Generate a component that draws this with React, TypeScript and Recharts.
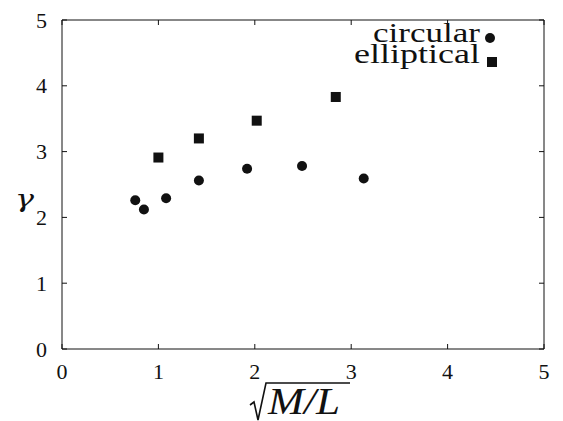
import React from 'react';
import { ScatterChart, Scatter, XAxis, YAxis, Legend } from 'recharts';

const circularX = [0.76, 0.85, 1.08, 1.42, 1.92, 2.49, 3.13];
const circularY = [2.26, 2.12, 2.29, 2.56, 2.74, 2.78, 2.59];
const ellipticalX = [1.0, 1.42, 2.02, 2.84];
const ellipticalY = [2.91, 3.2, 3.47, 3.83];
const xTicks = [0, 1, 2, 3, 4, 5];
const yTicks = [0, 1, 2, 3, 4, 5];
const seriesNames = ['circular', 'elliptical'];

const circularData = circularX.map((x, i) => ({ x, y: circularY[i] }));
const ellipticalData = ellipticalX.map((x, i) => ({ x, y: ellipticalY[i] }));

const FONT = "'Liberation Serif', 'Times New Roman', serif";
const INK = '#111';

const EmptyTick = () => <g />;

const XTick = (props: any) => (
  <text x={props.x} y={props.y + 30} textAnchor="middle" fontFamily={FONT} fontSize={22} fill={INK}>
    {props.payload.value}
  </text>
);

const YTick = (props: any) => (
  <text x={props.x - 15} y={props.y + 7.5} textAnchor="end" fontFamily={FONT} fontSize={22} fill={INK}>
    {props.payload.value}
  </text>
);

const XLabel = (props: any) => {
  const vb = props.viewBox;
  const cx = vb.x + vb.width / 2;
  const top = vb.y;
  return (
    <g>
      <path
        d={`M${cx - 53},${top + 56} L${cx - 49},${top + 53} L${cx - 45},${top + 71} L${cx - 37},${top + 34} L${cx + 47},${top + 34}`}
        fill="none"
        stroke={INK}
        strokeWidth={1.6}
      />
      <text x={cx + 1} y={top + 65} textAnchor="middle" fontFamily={FONT} fontStyle="italic" fontSize={37} fill={INK} textLength={72} lengthAdjust="spacingAndGlyphs">
        M/L
      </text>
    </g>
  );
};

const YLabel = (props: any) => {
  const vb = props.viewBox;
  const top = vb.y;
  return (
    <text x={15} y={top + 187} fontFamily="'DejaVu Serif', serif" fontStyle="italic" fontWeight={400} fontSize={25} fill={INK} textLength={19} lengthAdjust="spacingAndGlyphs">γ</text>
  );
};

const CircleShape = (props: any) => <circle cx={props.cx} cy={props.cy} r={5} fill={INK} />;
const SquareShape = (props: any) => <rect x={props.cx - 5} y={props.cy - 5} width={10} height={10} fill={INK} />;

const LegendContent = () => (
  <svg width={180} height={60}>
    <text x={140} y={27} textAnchor="end" fontFamily={FONT} fontSize={28} fill={INK} textLength={107} lengthAdjust="spacingAndGlyphs">
      {seriesNames[0]}
    </text>
    <circle cx={150} cy={23} r={5} fill={INK} />
    <text x={140} y={48} textAnchor="end" fontFamily={FONT} fontSize={28} fill={INK} textLength={126} lengthAdjust="spacingAndGlyphs">
      {seriesNames[1]}
    </text>
    <rect x={147} y={42} width={10} height={10} fill={INK} />
  </svg>
);

export default function App() {
  return (
    <div style={{ position: 'absolute', left: 0, top: 0, background: '#fff' }}>
      <ScatterChart width={563} height={421} margin={{ top: 20, right: 19, bottom: 0, left: 0 }}>
        <XAxis
          xAxisId="main"
          dataKey="x"
          type="number"
          domain={[0, 5]}
          ticks={xTicks}
          allowDataOverflow
          height={72}
          tickSize={0}
          tickMargin={0}
          tickLine={false}
          axisLine={{ stroke: INK, strokeWidth: 1 }}
          tick={XTick}
          label={XLabel}
        />
        <XAxis xAxisId="bm" dataKey="x" type="number" domain={[0, 5]} ticks={xTicks} allowDataOverflow mirror orientation="bottom" height={10} tickSize={5} axisLine={false} tickLine={{ stroke: INK }} tick={EmptyTick} />
        <XAxis xAxisId="tm" dataKey="x" type="number" domain={[0, 5]} ticks={xTicks} allowDataOverflow mirror orientation="top" height={10} tickSize={5} axisLine={{ stroke: INK, strokeWidth: 1 }} tickLine={{ stroke: INK }} tick={EmptyTick} />
        <YAxis
          yAxisId="main"
          dataKey="y"
          type="number"
          domain={[0, 5]}
          ticks={yTicks}
          allowDataOverflow
          width={62}
          tickSize={0}
          tickMargin={0}
          tickLine={false}
          axisLine={{ stroke: INK, strokeWidth: 1 }}
          tick={YTick}
          label={YLabel}
        />
        <YAxis yAxisId="lm" dataKey="y" type="number" domain={[0, 5]} ticks={yTicks} allowDataOverflow mirror orientation="left" width={10} tickSize={5} axisLine={false} tickLine={{ stroke: INK }} tick={EmptyTick} />
        <YAxis yAxisId="rm" dataKey="y" type="number" domain={[0, 5]} ticks={yTicks} allowDataOverflow mirror orientation="right" width={10} tickSize={5} axisLine={{ stroke: INK, strokeWidth: 1 }} tickLine={{ stroke: INK }} tick={EmptyTick} />
        <Legend
          layout="horizontal"
          align="center"
          verticalAlign="middle"
          wrapperStyle={{ left: 340, top: 15, width: 180, height: 60 }}
          content={LegendContent}
        />
        <Scatter name={seriesNames[0]} data={circularData} xAxisId="main" yAxisId="main" shape={CircleShape} isAnimationActive={false} />
        <Scatter name={seriesNames[1]} data={ellipticalData} xAxisId="main" yAxisId="main" shape={SquareShape} isAnimationActive={false} />
      </ScatterChart>
    </div>
  );
}
